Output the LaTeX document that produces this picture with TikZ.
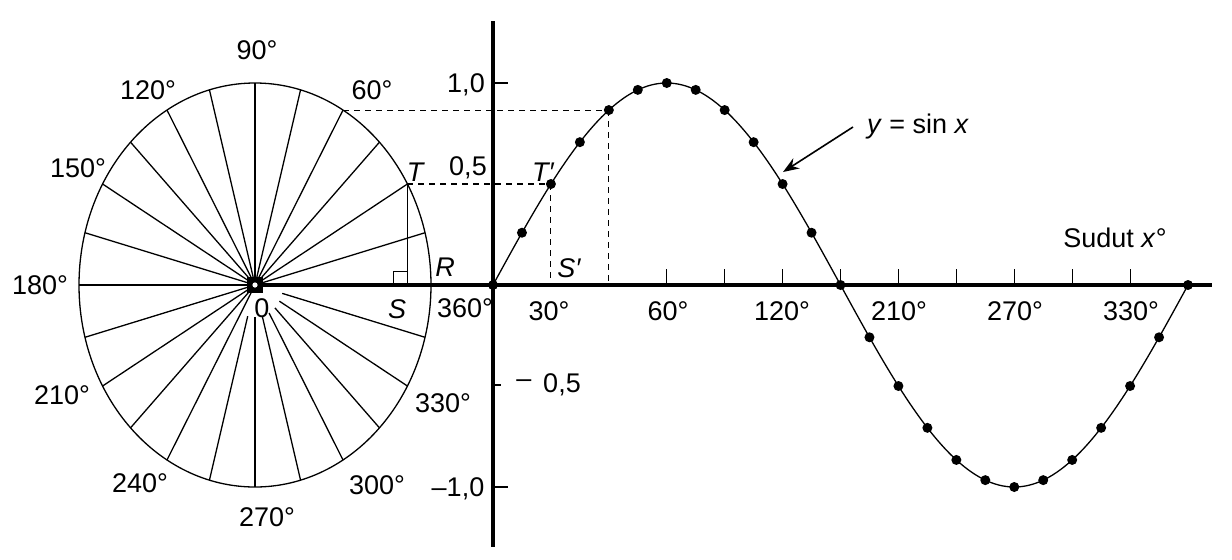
\documentclass[tikz,border=0pt]{standalone}
\usepackage{fontspec}
\setmainfont{Liberation Sans}
\usetikzlibrary{arrows.meta}
\begin{document}
\begin{tikzpicture}[x=0.5pt,y=-0.5pt,
  lbl/.style={font=\fontsize{13.5}{15}\selectfont, inner sep=0pt},
  ilbl/.style={font=\fontsize{13.5}{15}\selectfont\itshape, inner sep=0pt},
  thinline/.style={line width=0.65pt},
  axisline/.style={line width=1.75pt},
  guide/.style={line width=0.55pt, dash pattern=on 3pt off 2.5pt},
  tickline/.style={line width=0.6pt}]
\useasboundingbox (0,0) rectangle (1232,559);
% key points
\coordinate (O) at (255,285);
\coordinate (Y0) at (493,285);
\coordinate (T) at ({255+176*cos(30)},{285-202*sin(30)});
\coordinate (S) at (T |- O);
\coordinate (P60) at ({255+176*cos(60)},{285-202*sin(60)});
\coordinate (Tp) at ({493+1.9306*30},{285-202*sin(30)});
\coordinate (Sp) at (Tp |- O);
\coordinate (Q60) at ({493+1.9306*60},{285-202*sin(60)});
\coordinate (Q60b) at (Q60 |- O);
% ellipse (unit circle)
\draw[thinline] (O) ellipse [x radius=88pt, y radius=101pt];
\foreach \a in {15,30,...,165,195,210,225,240}
  \draw[thinline] (O) -- ({255+176*cos(\a)},{285-202*sin(\a)});
\foreach \a in {255,270,...,345}
  \draw[thinline] ({255+0.16*176*cos(\a)},{285-0.16*202*sin(\a)}) -- ({255+176*cos(\a)},{285-202*sin(\a)});
\draw[thinline] (O) -- (79,285);
% guides
\draw[guide] (P60) -- (P60 -| Q60);
\draw[guide] (Q60) -- (Q60b);
\draw[guide] (T) -- (Tp);
\draw[guide] (Tp) -- (Sp);
\draw[thinline] (T) -- (S);
\draw[line width=0.5pt] (S) ++(-14,0) -- ++(0,-14) -- ++(14,0);
% axes
\draw[axisline] (O) -- (1212,285);
\draw[axisline] (493,21) -- (493,547);
\foreach \d in {90,120,...,330}
  \draw[tickline] ({493+1.9306*\d},285) -- ++(0,-16);
\draw[tickline] (493,83) -- (508,83);
\draw[tickline] (493,487) -- (508,487);
\draw[tickline] (493,385) -- (501,385);
% centre mark
\fill (O) +(-8,-8) rectangle +(8,8);
\fill[white] (O) circle[radius=1.3pt];
% sine curve
\draw[thinline] plot[domain=0:360, samples=181] ({493+1.9306*\x},{285-202*sin(\x)});
\foreach \d in {0,15,...,360}
  \fill ({493+1.9306*\d},{285-202*sin(\d)}) circle[radius=2.5pt];
% circle labels
\node[lbl] (l90) at (257,50) {90°};
\node[lbl] (l60) at (372,90) {60°};
\node[lbl] (l120) at (148,90) {120°};
\node[lbl] (l150) at (78,168) {150°};
\node[lbl] (l180) at (40,285) {180°};
\node[lbl] (l210) at (62,395) {210°};
\node[lbl] (l240) at (140,483) {240°};
\node[lbl] (l270) at (267,517) {270°};
\node[lbl] (l300) at (377,485) {300°};
\node[lbl] (l330) at (443,403) {330°};
\node[lbl] (l0) at (262,308) {0};
\node[ilbl] (lS) at (397,309) {S};
\node[lbl] (l360) at (465,308) {360°};
\node[ilbl] (lR) at (445,267) {R};
\node[ilbl] (lT) at (415,172) {T};
\node[ilbl] (lTp) at (543,172) {T′};
\node[ilbl] (lSp) at (569,268) {S′};
% y-axis labels
\node[lbl] (y05) at (468,168) {0,5};
\node[lbl] (y10) at (466,85) {1,0};
\node[lbl] (ym05d) at (524,384) {–};
\node[lbl] (ym05) at (562,385) {0,5};
\node[lbl] (ym10) at (458,489) {–1,0};
% x-axis labels
\node[lbl] (x30) at (549,311) {30°};
\node[lbl] (x60) at (668,311) {60°};
\node[lbl] (x120) at (782,311) {120°};
\node[lbl] (x210) at (899,311) {210°};
\node[lbl] (x270) at (1015,311) {270°};
\node[lbl] (x330) at (1131,311) {330°};
\node[lbl] (sudut) at (1115,238) {Sudut \textit{x}°};
\node[lbl] (ysin) at (918,127) {\textit{y} = sin \textit{x}};
\coordinate (At) at (853,127);
\coordinate (Ah) at (783,172);
\draw[line width=0.8pt, -{Stealth[length=8pt,width=6pt]}] (At) -- (Ah);
\end{tikzpicture}
\end{document}
